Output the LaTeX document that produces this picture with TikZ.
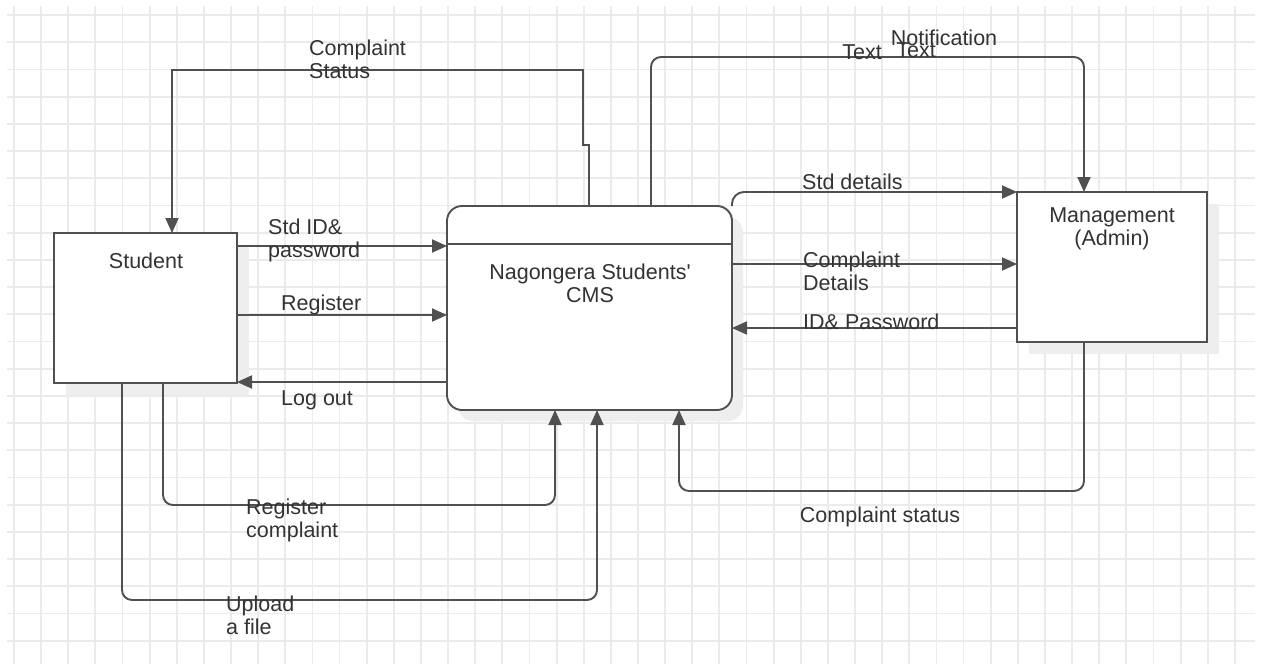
\documentclass[tikz,border=0pt]{standalone}
\usepackage{fontspec}
\setmainfont{Liberation Sans}
\newfontfamily\lsans{Liberation Sans}
\usetikzlibrary{arrows.meta,calc}
\definecolor{gridc}{RGB}{235,235,235}
\definecolor{linec}{RGB}{80,80,80}
\definecolor{textc}{RGB}{51,51,51}
\definecolor{shadc}{RGB}{238,238,238}
\begin{document}
\begin{tikzpicture}[x=1pt,y=-1pt,
  gridline/.style={draw=gridc, line width=1.8pt},
  entity/.style={draw=linec, line width=1.9pt, fill=white, inner sep=0pt, outer sep=0pt, anchor=north west},
  shade/.style={fill=shadc, draw=none},
  flow/.style={draw=linec, line width=1.9pt, -{Triangle[length=15pt,width=13pt]}},
  lbl/.style={text=textc, inner sep=0pt, font=\lsans\fontsize{21.5}{23}\selectfont, align=left},
  clbl/.style={text=textc, inner sep=0pt, font=\lsans\fontsize{21.5}{23}\selectfont, align=center}]
\useasboundingbox (0,0) rectangle (1261,664);
\fill[white] (0,0) rectangle (1261,664);
% grid
\foreach \i in {0,...,45} \draw[gridline] ({14+27.13*\i},6) -- ({14+27.13*\i},664);
\foreach \j in {0,...,23} \draw[gridline] (7,{15+27.2*\j}) -- (1255,{15+27.2*\j});
% shadows
\fill[shade] (66,245) rectangle (249,395);
\fill[shade, rounded corners=15pt] (458,217) rectangle (743,421);
\fill[shade] (1029,204) rectangle (1219,354);
% entities
\node[entity, minimum width=183pt, minimum height=150pt] (student) at (54,233) {};
\node[entity, minimum width=285pt, minimum height=204pt, rounded corners=15pt] (cms) at (447,206) {};
\node[entity, minimum width=190pt, minimum height=150pt] (mgmt) at (1017,192) {};
\draw[draw=linec, line width=1.9pt] (cms.west |- 0,244) -- (cms.east |- 0,244);
% entity texts
\node[clbl] (tstudent) at (146,261) {Student};
\node[clbl] (tcms) at (590,283) {Nagongera Students'\\CMS};
\node[clbl] (tmgmt) at (1112,229) {Management\\(Admin)};
% connectors
\draw[flow] (cms.north -| 589,0) -- (589,145) -- (583,145) -- (583,70) -- (172,70) -- (student.north -| 172,0);
\draw[flow, rounded corners=10pt] (cms.north -| 651,0) -- (651,57) -- (1084,57) -- (mgmt.north -| 1084,0);
\draw[flow] (student.east |- 0,246) -- (cms.west |- 0,246);
\draw[flow] (student.east |- 0,315) -- (cms.west |- 0,315);
\draw[flow] (cms.west |- 0,382) -- (student.east |- 0,382);
\draw[flow, rounded corners=10pt] (student.south -| 163,0) -- (163,505) -- (555,505) -- (cms.south -| 555,0);
\draw[flow, rounded corners=10pt] (student.south -| 122,0) -- (122,600) -- (597,600) -- (cms.south -| 597,0);
\draw[flow, rounded corners=10pt] (mgmt.south -| 1084,0) -- (1084,491) -- (679,491) -- (cms.south -| 679,0);
\draw[flow, rounded corners=12pt] (cms.north east) -- (732,192) -- (mgmt.north west);
\draw[flow] (cms.east |- 0,264) -- (mgmt.west |- 0,264);
\draw[flow] (mgmt.west |- 0,328) -- (cms.east |- 0,328);
% connector labels
\node[lbl, anchor=west] (lcs) at (309,59) {Complaint\\Status};
\node[lbl] (ltext1) at (862,52) {Text};
\node[lbl] (ltext2) at (916,50) {Text};
\node[lbl] (lnotif) at (944,38) {Notification};
\node[lbl, anchor=west] (lstdid) at (268,240) {Std ID\&\\password};
\node[lbl, anchor=west] (lreg) at (281,305) {Register};
\node[lbl, anchor=west] (llog) at (281,400) {Log out};
\node[lbl, anchor=west] (lstdd) at (802,182) {Std details};
\node[lbl, anchor=west] (lcd) at (803,271) {Complaint\\Details};
\node[lbl, anchor=west] (lidp) at (803,322) {ID\& Password};
\node[lbl, anchor=west] (lrc) at (246,520) {Register\\complaint};
\node[lbl, anchor=west] (lup) at (226,615) {Upload\\a file};
\node[lbl] (lcst) at (880,517) {Complaint status};
\end{tikzpicture}
\end{document}
